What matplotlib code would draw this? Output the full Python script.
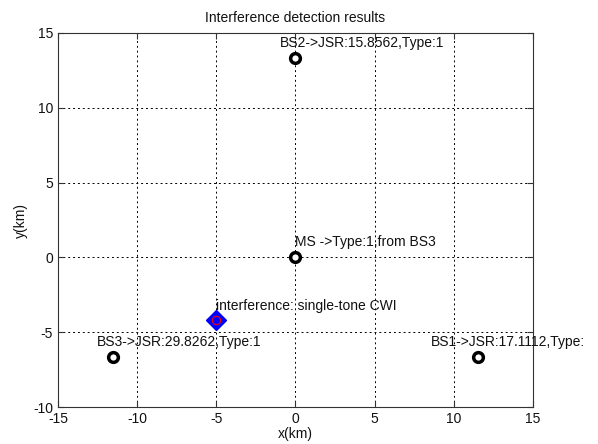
import matplotlib
matplotlib.use("Agg")
import matplotlib.pyplot as plt
from matplotlib.transforms import Bbox, TransformedBbox

plt.rcParams["font.family"] = ["Liberation Sans", "DejaVu Sans"]
plt.rcParams["axes.unicode_minus"] = False

# stations (km)
bs_names = ["BS1", "BS2", "BS3"]
bs_x = [11.547, 0.0, -11.547]
bs_y = [-6.667, 13.333, -6.667]
bs_jsr = ["17.1112", "15.8562", "29.8262"]
bs_type = [1, 1, 1]

ms_x, ms_y = 0.0, 0.0
int_x, int_y = -5.0, -4.2

fs = 10

fig = plt.figure(figsize=(5.98, 4.44), dpi=100)
ax = fig.add_axes([0.097, 0.0833, 0.794, 0.8424])

# stations
ax.plot(bs_x, bs_y, "o", ms=7, mfc="white", mec="black", mew=2.5, ls="none")
ax.plot([ms_x], [ms_y], "o", ms=7, mfc="white", mec="black", mew=2.5)

# interference
ax.plot([int_x], [int_y], "D", ms=10, mfc="blue", mec="blue")
ax.plot([int_x], [int_y], "o", ms=6, mfc="none", mec="red", mew=0.8)

# labels (the original figure cuts the BS1 label near the right edge)
clip = TransformedBbox(Bbox([[0, 0], [0.978, 1]]), fig.transFigure)
offsets = {"BS1": (-3.0, 1.0), "BS2": (-1.0, 1.0), "BS3": (-1.0, 1.0)}
for n, x, y, j, t in zip(bs_names, bs_x, bs_y, bs_jsr, bs_type):
    dx, dy = offsets[n]
    txt = ax.text(x + dx, y + dy, f"{n}->JSR:{j},Type:{t}", fontsize=fs,
                  va="center", ha="left", color="#111111")
    txt.set_clip_box(clip)
    txt.set_clip_on(True)
ax.text(ms_x, ms_y + 1.0, "MS ->Type:1,from BS3", fontsize=fs,
        va="center", ha="left", color="#111111")
ax.text(int_x, int_y + 0.95, "interference: single-tone CWI", fontsize=fs,
        va="center", ha="left", color="#111111")

ax.set_xlim(-15, 15)
ax.set_ylim(-10, 15)
ax.set_xticks(range(-15, 16, 5))
ax.set_yticks(range(-10, 16, 5))
ax.grid(True, color="black", linestyle=(0, (2, 3)), linewidth=0.7)
ax.tick_params(direction="in", labelsize=fs, length=4, color="#333333",
               top=True, right=True, labelcolor="#111111")
for s in ax.spines.values():
    s.set_color("#333333")
    s.set_linewidth(0.8)

ax.set_title("Interference detection results", fontsize=fs, pad=8,
             color="#111111")
ax.set_xlabel("x(km)", fontsize=fs, labelpad=1, color="#111111")
ax.set_ylabel("y(km)", fontsize=fs, labelpad=4, color="#111111")

fig.savefig("out.png", dpi=100)
